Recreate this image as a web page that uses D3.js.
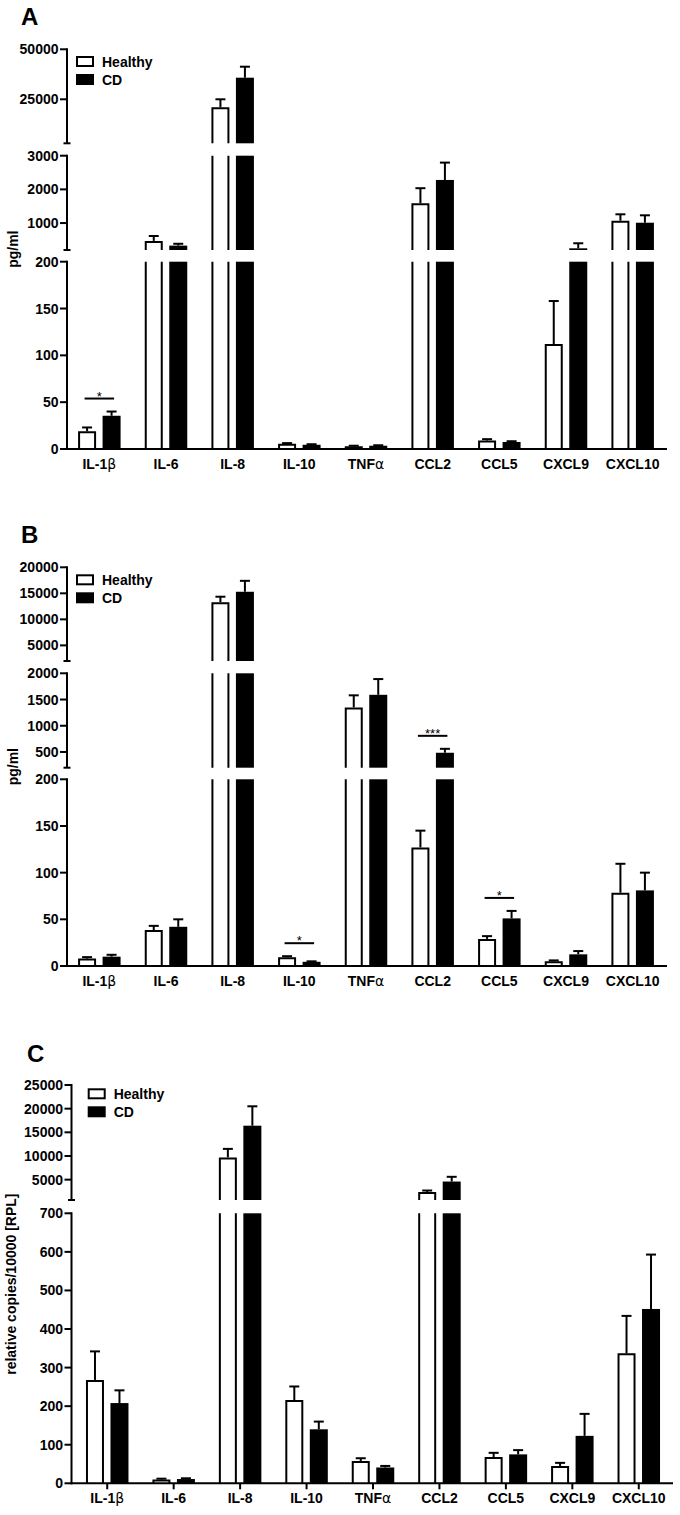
<!DOCTYPE html>
<html><head><meta charset="utf-8">
<script src="https://cdn.jsdelivr.net/npm/d3@7"></script>
<style>
body{margin:0;background:#fff}
svg{display:block}
text{font-family:"Liberation Sans",Arial,Helvetica,sans-serif}
</style>
</head><body>
<svg id="chart" width="680" height="1515"></svg>
<script>
// ---------------- DATA ----------------
const categories = ["IL-1β","IL-6","IL-8","IL-10","TNFα","CCL2","CCL5","CXCL9","CXCL10"];
const seriesNames = ["Healthy","CD"];

// Panel A (pg/ml)
const healthyA    = [19, 470, 21000, 5.5, 3, 1590, 9, 112, 1070];
const healthyErrA = [4, 145, 4000, 0.8, 0.5, 445, 1.5, 46, 190];
const cdA         = [35.5, 330, 35800, 4.5, 3.5, 2280, 7.5, 250, 1010];
const cdErrA      = [4.5, 55, 5500, 0.6, 0.5, 515, 0.8, 150, 220];
const breaksA     = [0, 200, 3000, 50000];
const ticksA      = [[0, 50, 100, 150, 200], [1000, 2000, 3000], [25000, 50000]];
const sigA        = [["IL-1β", "*"]];

// Panel B (pg/ml)
const healthyB    = [8, 38.5, 13300, 9.5, 1350, 127, 29, 5, 78.5];
const healthyErrB = [1.5, 4.5, 1050, 1, 230, 18, 3, 1, 31];
const cdB         = [10, 42, 15300, 4.5, 1590, 485, 51, 12.5, 81];
const cdErrB      = [2, 8, 2100, 0.5, 300, 75, 8, 3.5, 19];
const breaksB     = [0, 200, 2000, 20000];
const ticksB      = [[0, 50, 100, 150, 200], [500, 1000, 1500, 2000], [5000, 10000, 15000, 20000]];
const sigB        = [["IL-10", "*"], ["CCL2", "***"], ["CCL5", "*"]];

// Panel C (relative copies/10000 [RPL])
const healthyC    = [268, 10, 9700, 216, 58, 2400, 68, 45, 337];
const healthyErrC = [74, 2, 1800, 35, 7, 300, 11, 8, 97];
const cdC         = [208, 11, 16400, 140, 41, 4600, 75, 123, 452];
const cdErrC      = [33, 2, 4100, 20, 4, 1000, 11, 57, 141];
const breaksC     = [0, 700, 25000];
const ticksC      = [[0, 100, 200, 300, 400, 500, 600, 700], [5000, 10000, 15000, 20000, 25000]];
const sigC        = [];

// ---------------- LAYOUT ----------------
const panels = [
  {letter:"A", letterPos:[21,25], axisX:67, xRange:[66,666], axisEnd:667,
   segPx:[[449,261.7],[250,155.7],[143.3,49.3]], legend:[76,56], ylabel:"pg/ml", ylabelX:18,
   xTicks:false, h:healthyA, he:healthyErrA, c:cdA, ce:cdErrA, breaks:breaksA, ticks:ticksA, sig:sigA},
  {letter:"B", letterPos:[21,543], axisX:67, xRange:[66,666], axisEnd:667,
   segPx:[[966,779.3],[767.7,673.3],[661,567.3]], legend:[76,574.3], ylabel:"pg/ml", ylabelX:18,
   xTicks:false, h:healthyB, he:healthyErrB, c:cdB, ce:cdErrB, breaks:breaksB, ticks:ticksB, sig:sigB},
  {letter:"C", letterPos:[27,1062], axisX:71.5, xRange:[74,672], axisEnd:673,
   segPx:[[1483.3,1213.3],[1200,1085]], legend:[87.7,1088.3], ylabel:"relative copies/10000 [RPL]", ylabelX:16,
   xTicks:true, h:healthyC, he:healthyErrC, c:cdC, ce:cdErrC, breaks:breaksC, ticks:ticksC, sig:sigC}
];

const svg = d3.select("#chart");
const BAR_W = 18, GAP = 6.5, SW = 2, CAP = 10;

function labelWithGreek(sel, txt) {
  const last = txt.slice(-1);
  if (last === "β" || last === "α") {
    sel.append("tspan").text(txt.slice(0, -1));
    sel.append("tspan").attr("font-weight", "normal").attr("font-family", "DejaVu Sans, sans-serif")
      .attr("font-size", 14).text(last);
  } else sel.text(txt);
}

panels.forEach(p => {
  const g = svg.append("g");
  const x = d3.scaleBand().domain(categories).range(p.xRange).padding(0);
  const segs = p.segPx.map((r, k) => ({
    lo: p.breaks[k], hi: p.breaks[k + 1],
    y: d3.scaleLinear().domain([p.breaks[k], p.breaks[k + 1]]).range(r),
    ticks: p.ticks[k]
  }));
  const y0 = segs[0].y(0);

  // panel letter
  g.append("text").attr("x", p.letterPos[0]).attr("y", p.letterPos[1])
    .attr("font-size", 24).attr("font-weight", "bold").text(p.letter);

  const series = [
    {vals: p.h, errs: p.he, fill: "#fff", off: -GAP / 2 - BAR_W},
    {vals: p.c, errs: p.ce, fill: "#000", off: GAP / 2}
  ];

  // bars
  series.forEach(s => {
    categories.forEach((cat, i) => {
      const v = s.vals[i];
      const cx = x(cat) + x.bandwidth() / 2 + s.off;
      segs.forEach(seg => {
        if (v <= seg.lo) return;
        const top = seg.y(Math.min(v, seg.hi));
        const bot = seg.y(seg.lo);
        const ends = v <= seg.hi;
        if (s.fill === "#000") {
          g.append("rect").attr("x", cx).attr("y", top).attr("width", BAR_W)
            .attr("height", Math.max(0, bot - top)).attr("fill", "#000");
        } else {
          g.append("rect").attr("x", cx).attr("y", top).attr("width", BAR_W)
            .attr("height", Math.max(0, bot - top)).attr("fill", "#fff");
          const l = cx + SW / 2, r = cx + BAR_W - SW / 2, t = top + (ends ? SW / 2 : 0);
          const path = ends
            ? `M${l},${bot}V${t}H${r}V${bot}`
            : `M${l},${bot}V${top}M${r},${bot}V${top}`;
          g.append("path").attr("d", path).attr("fill", "none").attr("stroke", "#000").attr("stroke-width", SW);
        }
      });
      // error bar
      const seg = segs.find(sg => v > sg.lo && v <= sg.hi) || segs[0];
      const yv = seg.y(v), ye = seg.y(Math.min(v + s.errs[i], seg.hi));
      const mx = cx + BAR_W / 2;
      g.append("line").attr("x1", mx).attr("x2", mx).attr("y1", yv).attr("y2", ye)
        .attr("stroke", "#000").attr("stroke-width", SW);
      g.append("line").attr("x1", mx - CAP / 2).attr("x2", mx + CAP / 2).attr("y1", ye).attr("y2", ye)
        .attr("stroke", "#000").attr("stroke-width", SW);
    });
  });

  // significance bars
  p.sig.forEach(([cat, lab]) => {
    const i = categories.indexOf(cat);
    const tops = series.map(s => {
      const v = s.vals[i] + s.errs[i];
      const sg = segs.find(q => s.vals[i] > q.lo && s.vals[i] <= q.hi) || segs[0];
      return sg.y(Math.min(v, sg.hi));
    });
    const ly = Math.min(...tops) - 13;
    const c = x(cat) + x.bandwidth() / 2;
    const x1 = c - GAP / 2 - BAR_W / 2 - 2.5, x2 = c + GAP / 2 + BAR_W / 2 + 2.5;
    g.append("line").attr("x1", x1).attr("x2", x2).attr("y1", ly).attr("y2", ly)
      .attr("stroke", "#000").attr("stroke-width", SW);
    g.append("text").attr("x", c).attr("y", ly + 2).attr("text-anchor", "middle")
      .attr("font-size", 13).text(lab);
  });

  // y axis segments
  segs.forEach((seg, k) => {
    const r = seg.y.range();
    g.append("line").attr("x1", p.axisX).attr("x2", p.axisX).attr("y1", r[0] + (k === 0 ? SW / 2 : 0)).attr("y2", r[1] - 1)
      .attr("stroke", "#000").attr("stroke-width", SW);
    seg.ticks.forEach(t => {
      const ty = seg.y(t);
      g.append("line").attr("x1", p.axisX - 7).attr("x2", p.axisX).attr("y1", ty).attr("y2", ty)
        .attr("stroke", "#000").attr("stroke-width", SW);
      g.append("text").attr("x", p.axisX - 8.5).attr("y", ty).attr("dy", "0.36em")
        .attr("text-anchor", "end").attr("font-size", 14).attr("font-weight", "bold").text(t);
    });
    if (k > 0) {
      g.append("line").attr("x1", p.axisX - 3.5).attr("x2", p.axisX + 3.5).attr("y1", r[0]).attr("y2", r[0])
        .attr("stroke", "#000").attr("stroke-width", SW);
    }
  });

  // x axis
  g.append("line").attr("x1", p.axisX - 1).attr("x2", p.axisEnd).attr("y1", y0).attr("y2", y0)
    .attr("stroke", "#000").attr("stroke-width", SW);
  categories.forEach(cat => {
    const c = x(cat) + x.bandwidth() / 2;
    if (p.xTicks) {
      g.append("line").attr("x1", c).attr("x2", c).attr("y1", y0).attr("y2", y0 + 6)
        .attr("stroke", "#000").attr("stroke-width", SW);
    }
    const t = g.append("text").attr("x", c).attr("y", y0 + 20).attr("text-anchor", "middle")
      .attr("font-size", 14).attr("font-weight", "bold");
    labelWithGreek(t, cat);
  });

  // y label
  const top = segs[segs.length - 1].y.range()[1];
  const midY = (top + y0) / 2;
  g.append("text").attr("transform", `translate(${p.ylabelX},${midY}) rotate(-90)`)
    .attr("text-anchor", "middle").attr("font-size", 14).attr("font-weight", "bold").text(p.ylabel);

  // legend
  const [lx, ly] = p.legend;
  seriesNames.forEach((name, k) => {
    const yy = ly + k * 18;
    g.append("rect").attr("x", lx + 1).attr("y", yy + 1).attr("width", 16).attr("height", 9)
      .attr("fill", k === 0 ? "#fff" : "#000").attr("stroke", "#000").attr("stroke-width", SW);
    g.append("text").attr("x", lx + 26).attr("y", yy + 10.5).attr("font-size", 14)
      .attr("font-weight", "bold").text(name);
  });
});
</script>
</body></html>
